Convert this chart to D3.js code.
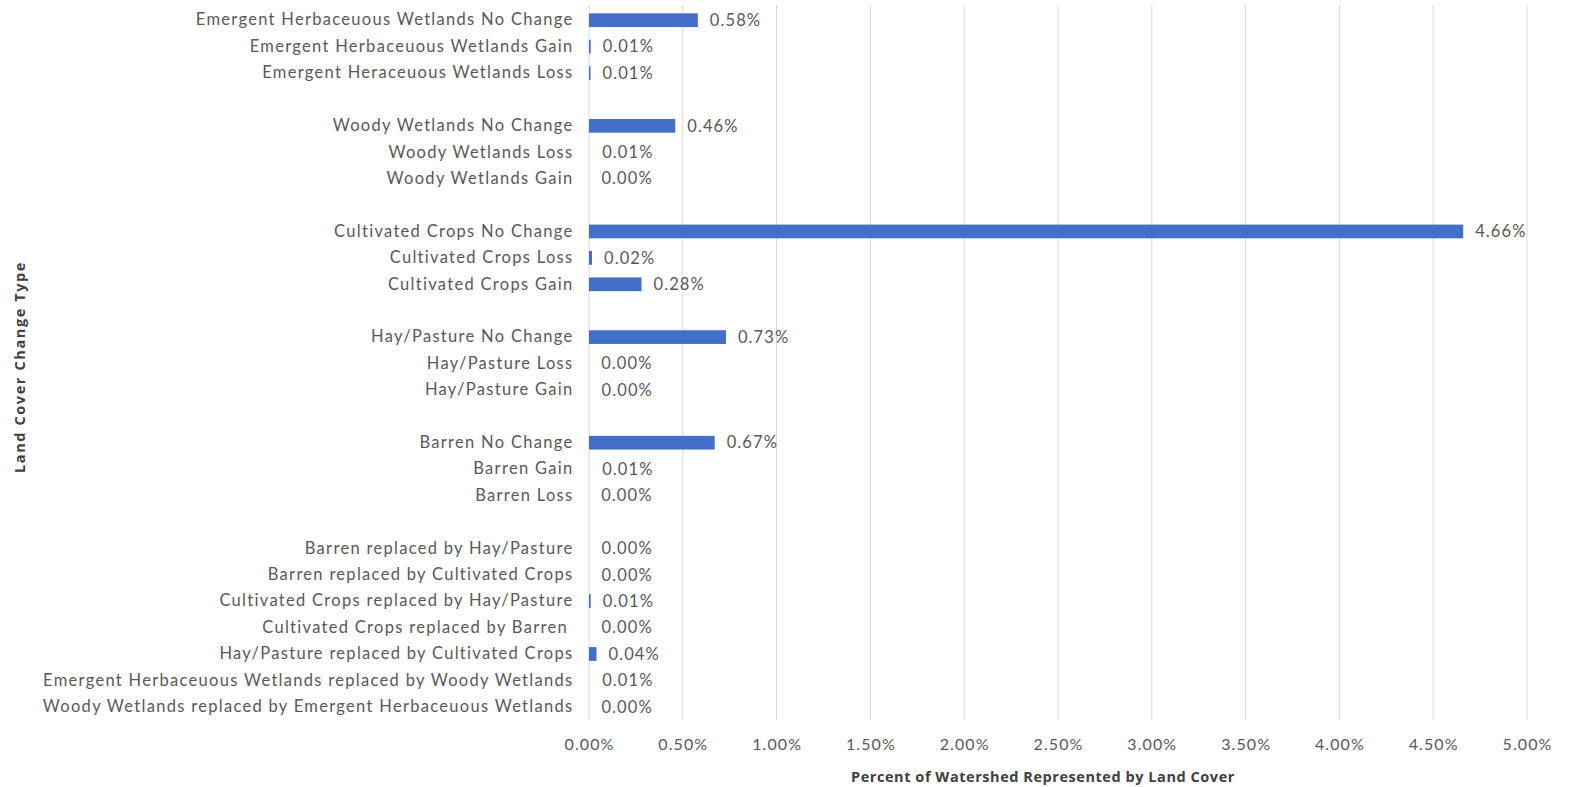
<!DOCTYPE html>
<html>
<head>
<meta charset="utf-8">
<script src="https://cdn.jsdelivr.net/npm/d3@7"></script>
<style>
  html, body { margin: 0; padding: 0; background: #ffffff; }
  svg { display: block; }
</style>
</head>
<body>
<svg id="chart" width="1575" height="787"></svg>
<script>
// Categories top-to-bottom; "" marks a blank spacer row between groups
const categories = [
  "Emergent Herbaceuous Wetlands No Change",
  "Emergent Herbaceuous Wetlands Gain",
  "Emergent Heraceuous Wetlands Loss",
  "",
  "Woody Wetlands No Change",
  "Woody Wetlands Loss",
  "Woody Wetlands Gain",
  "",
  "Cultivated Crops No Change",
  "Cultivated Crops Loss",
  "Cultivated Crops Gain",
  "",
  "Hay/Pasture No Change",
  "Hay/Pasture Loss",
  "Hay/Pasture Gain",
  "",
  "Barren No Change",
  "Barren Gain",
  "Barren Loss",
  "",
  "Barren replaced by Hay/Pasture",
  "Barren replaced by Cultivated Crops",
  "Cultivated Crops replaced by Hay/Pasture",
  "Cultivated Crops replaced by Barren ",
  "Hay/Pasture replaced by Cultivated Crops",
  "Emergent Herbaceuous Wetlands replaced by Woody Wetlands",
  "Woody Wetlands replaced by Emergent Herbaceuous Wetlands"
];
// Percent values (null = spacer row)
const values = [
  0.58, 0.009, 0.008,
  null,
  0.46, 0.006, 0.002,
  null,
  4.66, 0.016, 0.28,
  null,
  0.73, 0.001, 0.003,
  null,
  0.67, 0.006, 0.001,
  null,
  0.002, 0.003, 0.009, 0.002, 0.04, 0.006, 0.002
];
const xTicks = [0, 0.5, 1, 1.5, 2, 2.5, 3, 3.5, 4, 4.5, 5];
const xTitle = "Percent of Watershed Represented by Land Cover";
const yTitle = "Land Cover Change Type";

const svg = d3.select("#chart");
const fontFam = "Lato, 'Open Sans', sans-serif";
const keys = categories.map((c, i) => i);

const x = d3.scaleLinear().domain([0, 5]).range([589, 1527]);
const y = d3.scaleBand().domain(keys).range([7, 720]).paddingInner(0.48).paddingOuter(0.24);

// gridlines
svg.append("g").selectAll("line").data(xTicks).join("line")
  .attr("x1", d => x(d)).attr("x2", d => x(d))
  .attr("y1", 5).attr("y2", 720)
  .attr("stroke", "#d9d9d9").attr("stroke-width", 1);

// x axis tick labels
const xAxis = d3.axisBottom(x).tickValues(xTicks).tickSize(0).tickPadding(0)
  .tickFormat(d => d.toFixed(2) + "%");
const gx = svg.append("g").attr("transform", "translate(0,739)").call(xAxis);
gx.select(".domain").remove();
gx.selectAll("text").attr("font-family", fontFam).attr("font-size", 16)
  .attr("letter-spacing", 1.1)
  .attr("fill", "#595959").attr("dy", "0.71em");

// y axis category labels
const yAxis = d3.axisLeft(y).tickSize(0).tickPadding(0).tickFormat(i => categories[i]);
const gy = svg.append("g").attr("transform", "translate(573.5,0)").call(yAxis);
gy.select(".domain").remove();
gy.selectAll("text").attr("font-family", fontFam).attr("font-size", 16.5)
  .attr("letter-spacing", 1.3)
  .attr("fill", "#595959").style("white-space", "pre").attr("xml:space", "preserve");

const data = keys.filter(i => values[i] !== null).map(i => ({ i, v: values[i] }));

// bars
svg.append("g").selectAll("rect").data(data.filter(d => d.v >= 0.008)).join("rect")
  .attr("x", x(0))
  .attr("y", d => y(d.i))
  .attr("width", d => Math.max(1.5, x(d.v) - x(0)))
  .attr("height", y.bandwidth())
  .attr("fill", "#4270c8");

// value labels
svg.append("g").selectAll("text").data(data).join("text")
  .attr("x", d => x(d.v) + 12)
  .attr("y", d => y(d.i) + y.bandwidth() / 2)
  .attr("dy", "0.35em")
  .attr("font-family", fontFam).attr("font-size", 16.5)
  .attr("letter-spacing", 1.1)
  .attr("fill", "#595959")
  .text(d => d.v.toFixed(2) + "%");

// axis titles
svg.append("text")
  .attr("x", (x(0) + x(5)) / 2 - 15).attr("y", 782)
  .attr("text-anchor", "middle")
  .attr("font-family", "'Open Sans', sans-serif").attr("font-weight", "bold")
  .attr("font-size", 14.5).attr("letter-spacing", 0.55).attr("fill", "#404040")
  .text(xTitle);

svg.append("text")
  .attr("transform", "translate(25,367) rotate(-90)")
  .attr("text-anchor", "middle")
  .attr("font-family", "'Open Sans', sans-serif").attr("font-weight", "bold")
  .attr("font-size", 14.5).attr("letter-spacing", 1.6).attr("fill", "#404040")
  .text(yTitle);
</script>
</body>
</html>
